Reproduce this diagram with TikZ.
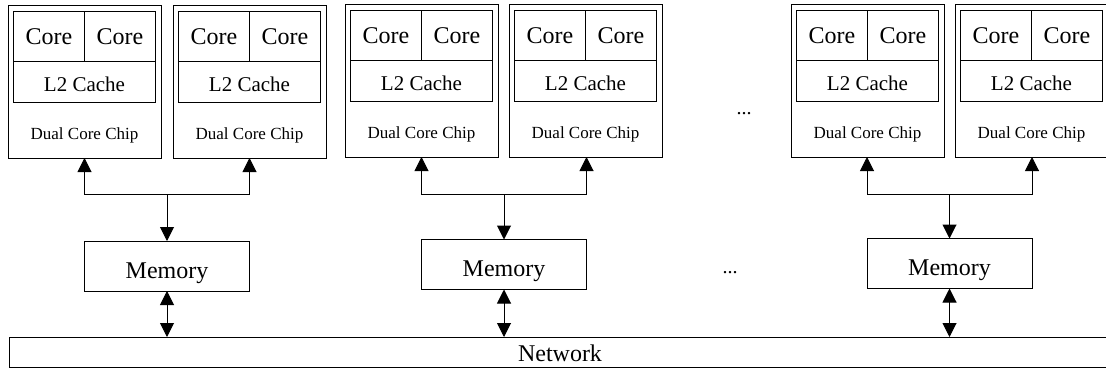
\documentclass[tikz,border=0pt]{standalone}
\usepackage{fontspec}
\setmainfont{Liberation Serif}
\usetikzlibrary{arrows.meta,calc}
\begin{document}
\begin{tikzpicture}[x=1pt,y=-1pt,
  box/.style={draw, line width=1pt, inner sep=0pt, outer sep=0pt},
  chipbox/.style={box, minimum width=153pt, minimum height=152pt},
  corebox/.style={box, minimum width=71pt, minimum height=50pt, font=\fontsize{24}{24}\selectfont},
  cachebox/.style={box, minimum width=142pt, minimum height=40pt, text height=20pt, text depth=0pt, font=\fontsize{21}{21}\selectfont},
  chiplabel/.style={inner sep=0pt, font=\fontsize{17}{17}\selectfont},
  membox/.style={box, minimum width=165pt, minimum height=50pt, text height=24pt, text depth=0pt, font=\fontsize{24}{24}\selectfont},
  netbox/.style={box, minimum width=1102pt, minimum height=30pt, text height=19pt, text depth=0pt, font=\fontsize{24}{24}\selectfont},
  dotsnode/.style={inner sep=0pt, font=\fontsize{20}{20}\selectfont},
  link/.style={line width=1pt, -{Triangle[length=14pt,width=14pt]}},
  duplex/.style={line width=1pt, {Triangle[length=14pt,width=14pt]}-{Triangle[length=14pt,width=14pt]}}
]
\useasboundingbox (0,0) rectangle (1106,369);

% dual core chips: index / left edge / top edge
\foreach \n/\x/\y in {1/8/6, 2/173/6, 3/345/5, 4/509/5, 5/791/5, 6/955/5} {
  \node[chipbox] (chip\n) at ({\x+76.5},{\y+76}) {};
  \node[corebox] (corel\n) at ({\x+5.5+35.5},{\y+6+25}) {Core};
  \node[corebox] (corer\n) at ({\x+5.5+106.5},{\y+6+25}) {Core};
  \node[cachebox] (cache\n) at ({\x+76.5},{\y+56+20}) {L2 Cache};
  \node[chiplabel] (chiplbl\n) at ({\x+76.5},{\y+129}) {Dual Core Chip};
}

% memories
\node[membox] (mem1) at (167,266) {Memory};
\node[membox] (mem2) at (504,264.5) {Memory};
\node[membox] (mem3) at (949.5,263.5) {Memory};

% network
\node[netbox] (net) at (560,352) {Network};

% gaps between groups
\node[dotsnode] (dotstop) at (744,114) {...};
\node[dotsnode] (dotsmid) at (730,273) {...};

% chip pairs sharing a memory
\foreach \g/\a/\b in {1/1/2, 2/3/4, 3/5/6} {
  \coordinate (junc\g) at (mem\g.north |- 0,194);
  \draw[link] (junc\g) -- (mem\g.north);
  \draw[link] (junc\g) -| (mem\g.north west |- chip\a.south);
  \draw[link] (junc\g) -| (mem\g.north east |- chip\b.south);
  \draw[duplex] (mem\g.south) -- (mem\g.south |- net.north);
}
\end{tikzpicture}
\end{document}
